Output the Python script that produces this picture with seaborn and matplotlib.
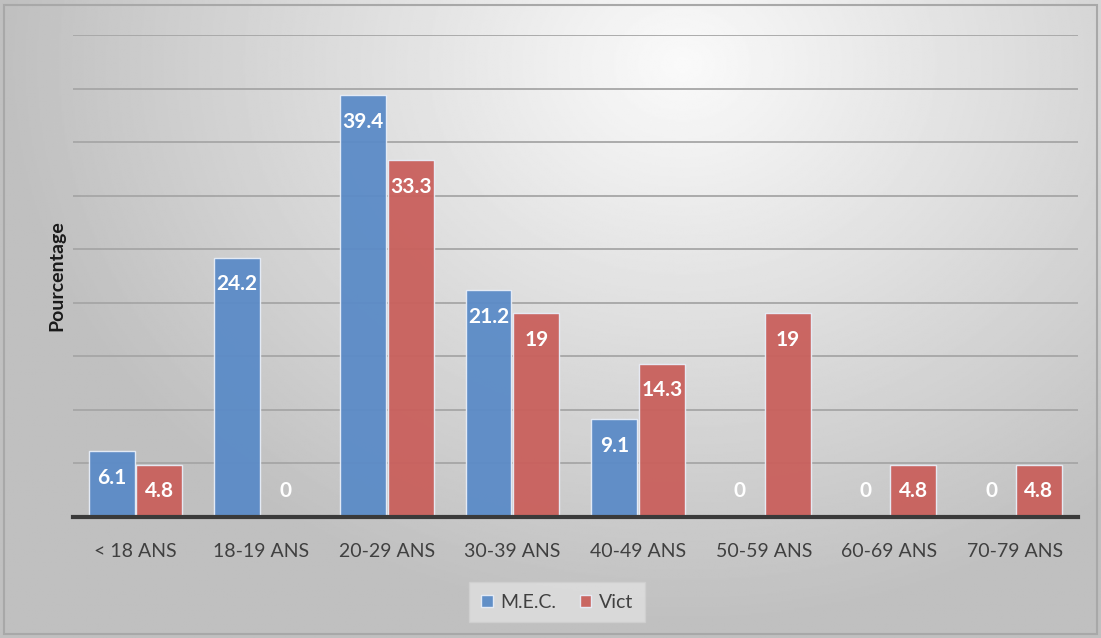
import numpy as np
import pandas as pd
import seaborn as sns
import matplotlib.pyplot as plt
from matplotlib.patches import Rectangle

# data
age_groups = ['< 18 ANS', '18-19 ANS', '20-29 ANS', '30-39 ANS',
              '40-49 ANS', '50-59 ANS', '60-69 ANS', '70-79 ANS']
mec = [6.1, 24.2, 39.4, 21.2, 9.1, 0, 0, 0]
vict = [4.8, 0, 33.3, 19, 14.3, 19, 4.8, 4.8]
series_names = ['M.E.C.', 'Vict']

df = pd.DataFrame({
    'age': age_groups * 2,
    'serie': [series_names[0]] * len(age_groups) + [series_names[1]] * len(age_groups),
    'pct': mec + vict,
})

sns.set_theme(style='white')
plt.rcParams['font.family'] = ['Lato', 'DejaVu Sans']

fig = plt.figure(figsize=(11.01, 6.38), dpi=100)

# radial grey background like the office chart
bg = fig.add_axes([0, 0, 1, 1], zorder=-10)
yy, xx = np.mgrid[0:1:400j, 0:1:700j]
d = np.sqrt(((xx - 0.62) / 0.7) ** 2 + ((yy - 0.1) / 1.0) ** 2)
img = np.clip(0.98 - 0.26 * d, 0.75, 0.98)
bg.imshow(img, cmap='gray', vmin=0, vmax=1, aspect='auto', extent=[0, 1, 1, 0])
bg.axis('off')
fig.patches.append(Rectangle((0.004, 0.006), 0.992, 0.986, transform=fig.transFigure,
                             fill=False, edgecolor='#a8a8a8', linewidth=1.5))

ax = fig.add_axes([0.066, 0.19, 0.913, 0.755])
ax.set_facecolor('none')
palette = {'M.E.C.': '#5b8bc7', 'Vict': '#c9605c'}
sns.barplot(data=df, x='age', y='pct', hue='serie', palette=palette, ax=ax,
            width=0.76, gap=0.04, alpha=0.95, edgecolor='#e8eef8', linewidth=1,
            saturation=1, zorder=3)

ax.set_ylim(0, 45)
ax.set_yticks(np.arange(5, 46, 5))
ax.yaxis.grid(True, color='#a6a6a6', linewidth=1.3, zorder=0)
ax.set_axisbelow(True)
ax.tick_params(axis='y', left=False, labelleft=False)
ax.tick_params(axis='x', bottom=False, labelsize=14, labelcolor='#404040', pad=13)
for s in ['top', 'right', 'left']:
    ax.spines[s].set_visible(False)
ax.spines['bottom'].set_color('#3a3a3a')
ax.spines['bottom'].set_linewidth(3)
ax.spines['bottom'].set_zorder(5)
ax.set_xlabel('')
ax.set_ylabel('Pourcentage', fontsize=14, fontweight='bold', color='#1a1a1a', labelpad=5)

# value labels inside the bars
for cont in ax.containers:
    for bar in cont:
        v = bar.get_height()
        x = bar.get_x() + bar.get_width() / 2
        y = max(v - 2.5, 2.4)
        ax.text(x, y, f'{v:g}', ha='center', va='center', color='white',
                fontsize=15, fontweight='bold', zorder=6)

leg = ax.legend(loc='upper center', bbox_to_anchor=(0.482, -0.115), ncol=2,
                frameon=True, fontsize=14, handlelength=0.6, handleheight=0.6,
                handletextpad=0.4, columnspacing=1.2, borderpad=0.6, fancybox=False)
leg.get_frame().set_facecolor('#e0e0e0')
leg.get_frame().set_edgecolor('#d0d0d0')
for t in leg.get_texts():
    t.set_color('#404040')

fig.savefig('out.png', dpi=100)
